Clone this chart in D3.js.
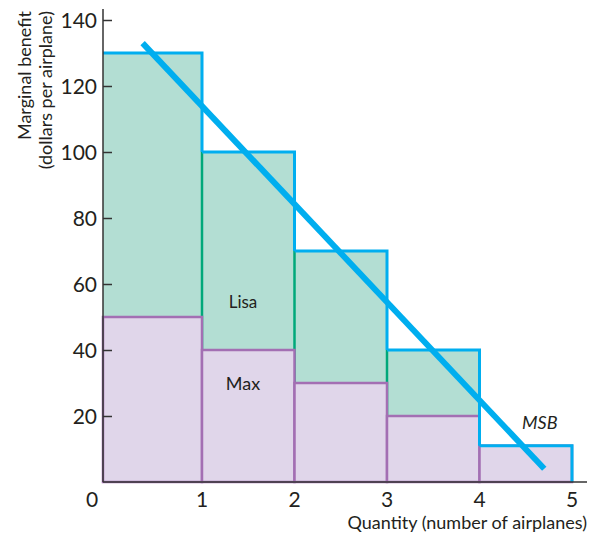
<!DOCTYPE html>
<html><head><meta charset="utf-8">
<script src="https://cdn.jsdelivr.net/npm/d3@7"></script>
<style>body{margin:0;background:#fff}svg{display:block}text{font-family:Lato,"Open Sans",sans-serif;fill:#231f20}</style>
</head><body><svg id="c" width="595" height="538"></svg>
<script>
const quantities = [1, 2, 3, 4, 5];
const maxBenefit = [50, 40, 30, 20, 11];
const lisaBenefit = [80, 60, 40, 20, 0];
const msbQ = [0.4, 4.7];
const msbV = [133, 4];
const yTicks = [20, 40, 60, 80, 100, 120, 140];
const xTicks = [1, 2, 3, 4, 5];

const svg = d3.select("#c");
const x = d3.scaleLinear().domain([0, 1, 5]).range([103, 202, 572]);
const y = d3.scaleLinear().domain([0, 140]).range([482, 20]);

const cBlue = "#00aeef", cGreenFill = "#b3ded3", cPurpFill = "#e0d6ea",
      cPurp = "#a36fb3", cGreen = "#00a87a";

const bars = quantities.map((q, i) => ({q, max: maxBenefit[i], lisa: lisaBenefit[i], total: maxBenefit[i] + lisaBenefit[i]}));

svg.selectAll(".lisa").data(bars).join("rect")
  .attr("x", d => x(d.q - 1)).attr("width", d => x(d.q) - x(d.q - 1))
  .attr("y", d => y(d.total)).attr("height", d => y(d.max) - y(d.total))
  .attr("fill", cGreenFill);
svg.selectAll(".lisaEdge").data(bars.filter(d => d.q > 1 && d.lisa > 0)).join("line")
  .attr("x1", d => x(d.q - 1)).attr("x2", d => x(d.q - 1))
  .attr("y1", d => y(d.total)).attr("y2", d => y(d.max))
  .attr("stroke", cGreen).attr("stroke-width", 2.5);
svg.selectAll(".max").data(bars).join("rect")
  .attr("x", d => x(d.q - 1)).attr("width", d => x(d.q) - x(d.q - 1))
  .attr("y", d => y(d.max)).attr("height", d => y(0) - y(d.max))
  .attr("fill", cPurpFill).attr("stroke", cPurp).attr("stroke-width", 2.5);
bars.forEach((d, i) => {
  const nextTop = i < bars.length - 1 ? bars[i + 1].total : 0;
  svg.append("path")
    .attr("d", d3.line()([[x(d.q - 1), y(d.total)], [x(d.q), y(d.total)], [x(d.q), y(Math.max(nextTop, 0))]]))
    .attr("fill", "none").attr("stroke", cBlue).attr("stroke-width", 3);
});

const yAxis = svg.append("g").attr("transform", `translate(${x(0)},0)`)
  .call(d3.axisRight(y).tickValues(yTicks).tickSize(9).tickFormat(""));
yAxis.select(".domain").remove();
yAxis.selectAll("line").attr("stroke", "#333").attr("stroke-width", 1.5);
svg.append("line").attr("x1", x(0)).attr("x2", x(0)).attr("y1", 9).attr("y2", y(0))
  .attr("stroke", "#333").attr("stroke-width", 1.5);
svg.append("line").attr("x1", x(0)).attr("x2", 587).attr("y1", y(0)).attr("y2", y(0))
  .attr("stroke", "#333").attr("stroke-width", 1.5);
svg.selectAll(".ylab").data(yTicks).join("text")
  .attr("x", 97).attr("y", d => y(d) + 7.5).attr("text-anchor", "end")
  .attr("font-size", 21).text(d => d);
svg.selectAll(".xlab").data(xTicks).join("text")
  .attr("x", d => x(d)).attr("y", 507).attr("text-anchor", "middle")
  .attr("font-size", 21).text(d => d);
svg.append("text").attr("x", 92).attr("y", 507).attr("text-anchor", "middle").attr("font-size", 21).text("0");

svg.append("path")
  .attr("d", d3.line().x(d => x(d[0])).y(d => y(d[1]))(msbQ.map((q, i) => [q, msbV[i]])))
  .attr("stroke", cBlue).attr("stroke-width", 6).attr("fill", "none");

svg.append("text").attr("x", 243).attr("y", 308).attr("text-anchor", "middle").attr("font-size", 17).text("Lisa");
svg.append("text").attr("x", 243).attr("y", 390).attr("text-anchor", "middle").attr("font-size", 18).text("Max");
svg.append("text").attr("x", 522).attr("y", 429).attr("font-size", 18).attr("font-style", "italic").text("MSB");
svg.append("text").attr("x", 587).attr("y", 529).attr("text-anchor", "end").attr("font-size", 18).text("Quantity (number of airplanes)");
svg.append("text").attr("transform", "translate(31,11) rotate(-90)").attr("text-anchor", "end").attr("font-size", 18).text("Marginal benefit");
svg.append("text").attr("transform", "translate(52,11) rotate(-90)").attr("text-anchor", "end").attr("font-size", 18).text("(dollars per airplane)");
</script></body></html>
